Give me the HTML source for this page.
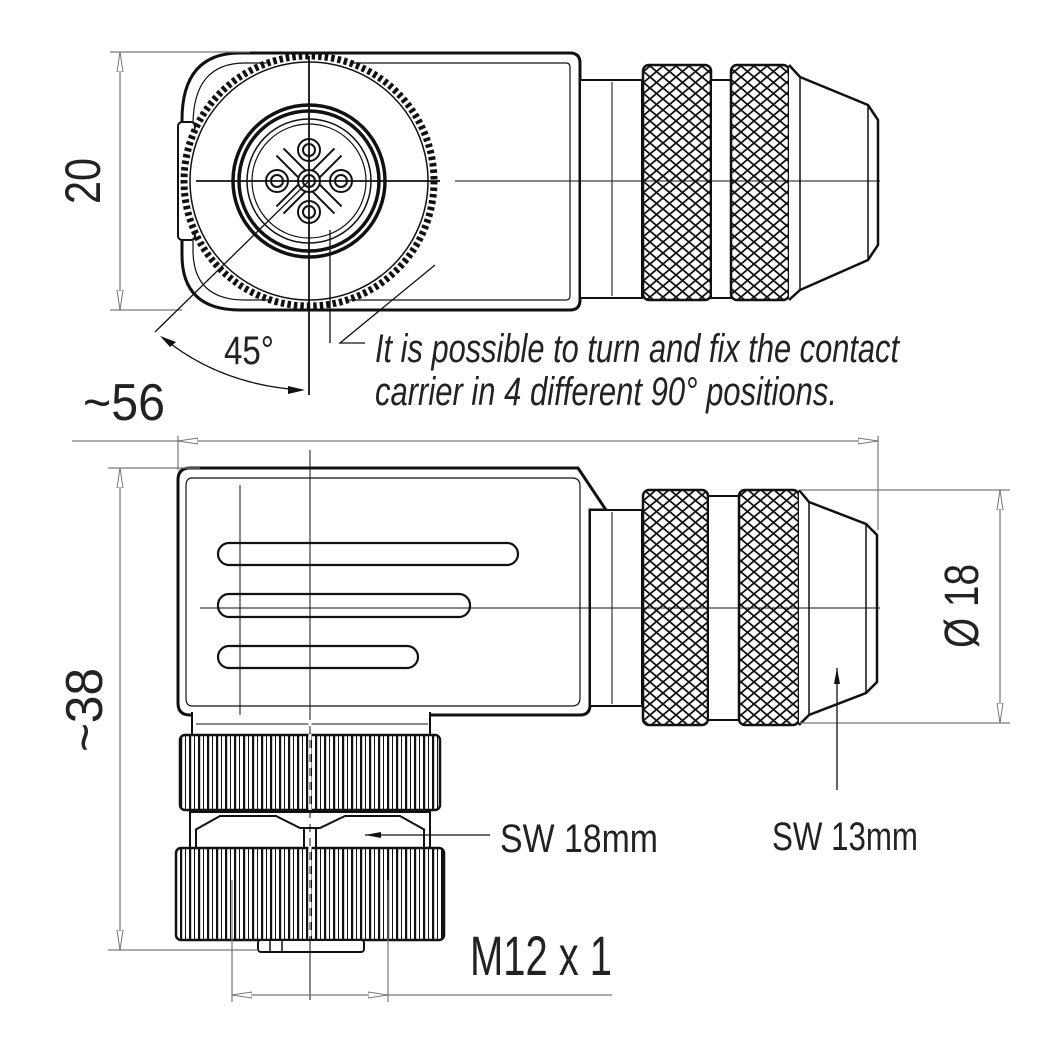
<!DOCTYPE html>
<html><head><meta charset="utf-8"><style>
html,body{margin:0;padding:0;background:#fff}
svg{display:block}
text{font-family:"Liberation Sans",sans-serif;fill:#222}
</style></head><body>
<svg width="1058" height="1053" viewBox="0 0 1058 1053" xmlns="http://www.w3.org/2000/svg">
<defs>
<pattern id="kn" width="13" height="11" patternUnits="userSpaceOnUse">
<rect width="13" height="11" fill="#fff"/>
<path d="M0 0L13 11M13 0L0 11" stroke="#111" stroke-width="1.8" fill="none"/>
</pattern>
<pattern id="vk" width="9" height="10" patternUnits="userSpaceOnUse">
<rect width="9" height="10" fill="#fff"/>
<rect x="0" y="0" width="2.2" height="10" fill="#111"/>
<rect x="5" y="0" width="1" height="10" fill="#111"/>
</pattern>
<marker id="oa" markerWidth="20" markerHeight="10" refX="0" refY="4" orient="auto" markerUnits="userSpaceOnUse">
<path d="M0 4L20 1L20 7Z" fill="#fff" stroke="#777" stroke-width="1"/>
</marker>
<marker id="fa" markerWidth="16" markerHeight="8" refX="0" refY="4" orient="auto" markerUnits="userSpaceOnUse">
<path d="M0 4L16 1L16 7Z" fill="#111"/>
</marker>
</defs>

<!-- ===== TOP VIEW ===== -->
<g stroke="#111" fill="none">
<path d="M240 53 L570 53 Q580 53 580 63 L580 300 Q580 310 570 310 L240 310 Q182 310 182 255 L182 120 Q182 53 240 53 Z" stroke-width="3" fill="#fff"/>
<path d="M245 63 L566 63 Q570 63 570 67 L570 296 Q570 300 566 300 L245 300 Q193 300 193 250 L193 125 Q193 63 245 63 Z" stroke-width="1.2"/>
<rect x="178" y="122" width="17" height="118" rx="4" stroke-width="2" fill="#fff"/>
<circle cx="309" cy="181" r="125" stroke="#111" stroke-width="7" stroke-dasharray="3.5 3" fill="#fff"/>
<circle cx="309" cy="181" r="119" stroke-width="1.5"/>
<circle cx="309" cy="181" r="76" stroke-width="3.5"/>
<circle cx="309" cy="181" r="70" stroke-width="3.5"/>
<circle cx="309" cy="181" r="62" stroke-width="1.5"/>
<circle cx="309" cy="181" r="57" stroke-width="1.2"/>
<path d="M280 152 L338 210 M338 152 L280 210" stroke-width="12" stroke="#111"/>
<path d="M280 152 L338 210 M338 152 L280 210" stroke-width="8" stroke="#fff"/>
<g stroke-width="2" fill="#fff">
<circle cx="309" cy="150" r="11"/><circle cx="277" cy="181" r="11"/><circle cx="309" cy="181" r="11"/><circle cx="341" cy="181" r="11"/><circle cx="309" cy="212" r="11"/>
<circle cx="309" cy="150" r="6"/><circle cx="277" cy="181" r="6"/><circle cx="309" cy="181" r="6"/><circle cx="341" cy="181" r="6"/><circle cx="309" cy="212" r="6"/>
</g>
<path d="M196 181 L440 181 M309 56 L309 395" stroke-width="1.8"/>
<rect x="580" y="80" width="62" height="218" stroke-width="2" fill="#fff"/>
<path d="M612 82 L612 296" stroke-width="1"/>
<rect x="643" y="65" width="68" height="235" rx="6" stroke-width="2.5" fill="url(#kn)"/>
<rect x="711" y="80" width="20" height="218" stroke-width="2" fill="#fff"/>
<rect x="731" y="65" width="58" height="235" rx="6" stroke-width="2.5" fill="url(#kn)"/>
<path d="M789 65 L800 77 L868 105 L878 120 L878 245 L868 260 L800 290 L789 300" stroke-width="2.5" fill="#fff"/>
<path d="M800 77 L800 290 M868 105 L868 260" stroke-width="1.5"/>
<path d="M455 181 L880 181" stroke-width="1"/>
</g>
<g stroke="#777" stroke-width="1.2" fill="none">
<path d="M110 52 L250 52 M110 310 L182 310"/>
<path d="M120 52 L120 310"/>
<path d="M120 52 L120 72" marker-start="url(#oa)"/>
<path d="M120 310 L120 290" marker-start="url(#oa)"/>
</g>
<g stroke="#111" stroke-width="1.3" fill="none">
<path d="M309 181 L155 332"/>
<path d="M162 337 Q220 385 302 390"/>
<path d="M435 265 L340 343 L365 343 M330 230 L330 343"/>
</g>
<path d="M160 336 L176 342 L170 347 Z" fill="#111"/>
<path d="M305 390 L288 386 L288 394 Z" fill="#111"/>
<text font-size="50" transform="translate(100,181) rotate(-90)" text-anchor="middle" textLength="46" lengthAdjust="spacingAndGlyphs">20</text>
<text x="224" y="364" font-size="40" textLength="50" lengthAdjust="spacingAndGlyphs">45°</text>
<text x="375" y="362" font-size="40" font-style="italic" textLength="524" lengthAdjust="spacingAndGlyphs">It is possible to turn and fix the contact</text>
<text x="375" y="405" font-size="40" font-style="italic" textLength="462" lengthAdjust="spacingAndGlyphs">carrier in 4 different 90° positions.</text>
<text x="83" y="420" font-size="52" textLength="82" lengthAdjust="spacingAndGlyphs">~56</text>
<g stroke="#777" stroke-width="1.2" fill="none">
<path d="M72 441 L878 441"/>
<path d="M178 441 L198 441" marker-start="url(#oa)"/>
<path d="M878 441 L858 441" marker-start="url(#oa)"/>
<path d="M178 436 L178 470 M878 436 L878 530"/>
</g>

<!-- ===== SIDE VIEW ===== -->
<g stroke="#111" fill="none">
<path d="M190 468 L578 468 L606 510 L590 510 L590 705 Q590 715 580 715 L190 715 Q178 715 178 703 L178 480 Q178 468 190 468 Z" stroke-width="3" fill="#fff"/>
<path d="M192 478 L572 478 Q580 478 580 486 L580 698 Q580 706 572 706 L192 706 Q186 706 186 698 L186 486 Q186 478 192 478Z" stroke-width="1.2"/>
<rect x="218" y="543" width="300" height="22" rx="11" stroke-width="2.2"/>
<rect x="218" y="594" width="252" height="23" rx="11" stroke-width="2.2"/>
<rect x="218" y="646" width="200" height="22" rx="11" stroke-width="2.2"/>
<rect x="590" y="510" width="52" height="196" stroke-width="2" fill="#fff"/>
<path d="M612 512 L612 704" stroke-width="1"/>
<rect x="643" y="490" width="65" height="235" rx="6" stroke-width="2.5" fill="url(#kn)"/>
<rect x="708" y="496" width="31" height="224" stroke-width="2" fill="#fff"/>
<rect x="739" y="490" width="60" height="235" rx="6" stroke-width="2.5" fill="url(#kn)"/>
<path d="M799 490 L809 502 L866 524 L877 535 L877 682 L866 693 L809 715 L799 725" stroke-width="2.5" fill="#fff"/>
<path d="M809 502 L809 715 M866 524 L866 693" stroke-width="1.5"/>
<path d="M192 712 L192 735 L430 735 L430 712" stroke-width="2" fill="#fff"/>
<path d="M196 724 L428 724" stroke-width="1"/>
<rect x="180" y="735" width="260" height="75" rx="5" stroke-width="2.5" fill="url(#vk)"/>
<path d="M190 812 L430 812 L430 850 L190 850 Z" stroke-width="2" fill="#fff"/>
<path d="M195 830 L220 816 L276 816 L300 828 L320 828 L345 816 L400 816 L425 830" stroke-width="2"/>
<path d="M196 830 L196 850 M424 830 L424 850 M304 828 L304 850 M316 828 L316 850" stroke-width="2"/>
<rect x="176" y="848" width="268" height="92" rx="5" stroke-width="2.5" fill="url(#vk)"/>
<rect x="258" y="940" width="106" height="12" rx="3" stroke-width="2" fill="#fff"/>
<path d="M270 940 L270 952 M282 940 L282 952" stroke-width="1.5"/>
<path d="M310 450 L310 1000" stroke-width="1" />
<path d="M310 720 L310 940" stroke="#fff" stroke-width="3" stroke-dasharray="6 8"/>
<path d="M200 608 L880 608" stroke-width="1"/>
<path d="M240 485 L240 715" stroke-width="1"/>
</g>
<g stroke="#777" stroke-width="1.2" fill="none">
<path d="M108 468 L200 468 M108 950 L258 950"/>
<path d="M120 468 L120 950"/>
<path d="M120 468 L120 488" marker-start="url(#oa)"/>
<path d="M120 950 L120 930" marker-start="url(#oa)"/>
<path d="M800 490 L1010 490 M800 723 L1010 723"/>
<path d="M1000 490 L1000 723"/>
<path d="M1000 490 L1000 510" marker-start="url(#oa)"/>
<path d="M1000 723 L1000 703" marker-start="url(#oa)"/>
<path d="M232 880 L232 1002 M388 880 L388 1002"/>
<path d="M232 995 L612 995"/>
<path d="M232 995 L252 995" marker-start="url(#oa)"/>
<path d="M388 995 L368 995" marker-start="url(#oa)"/>
</g>
<g stroke="#111" stroke-width="1.3" fill="none">
<path d="M837 668 L837 790" marker-start="url(#fa)"/>
<path d="M365 835 L490 835" marker-start="url(#fa)"/>
</g>
<text font-size="52" transform="translate(102,710) rotate(-90)" text-anchor="middle" textLength="84" lengthAdjust="spacingAndGlyphs">~38</text>
<text font-size="48" transform="translate(978,606) rotate(-90)" text-anchor="middle" textLength="84" lengthAdjust="spacingAndGlyphs">Ø 18</text>
<text x="772" y="850" font-size="40" textLength="146" lengthAdjust="spacingAndGlyphs">SW 13mm</text>
<text x="500" y="852" font-size="40" textLength="158" lengthAdjust="spacingAndGlyphs">SW 18mm</text>
<text x="470" y="975" font-size="56" textLength="142" lengthAdjust="spacingAndGlyphs">M12 x 1</text>
</svg>
</body></html>
